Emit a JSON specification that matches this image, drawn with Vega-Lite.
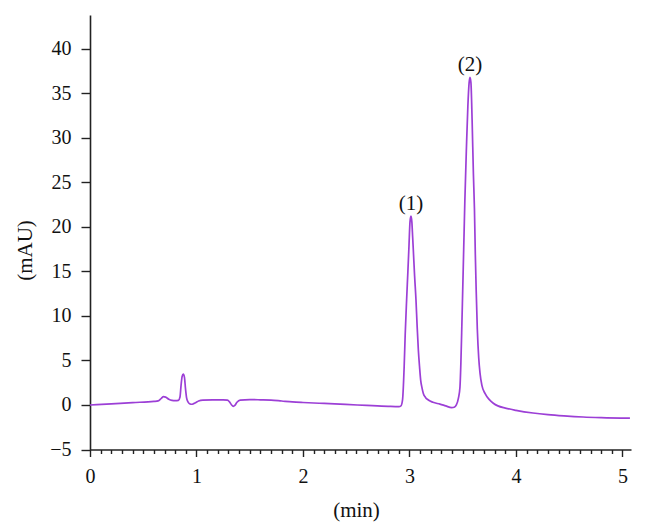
{
  "$schema": "https://vega.github.io/schema/vega-lite/v6.json",
  "width": 541,
  "height": 434.5,
  "autosize": "none",
  "padding": {"left": 90, "top": 15, "right": 14, "bottom": 82.5},
  "background": "white",
  "config": {
    "view": {"stroke": null},
    "font": "Liberation Serif",
    "axis": {"grid": false, "domainColor": "#222", "domainWidth": 1.6, "tickColor": "#222", "tickWidth": 1.4, "labelColor": "#111", "titleColor": "#111", "labelFont": "Liberation Serif", "titleFont": "Liberation Serif", "labelFontSize": 20, "titleFontSize": 21, "titleFontWeight": "normal"}
  },
  "datasets": {
    "trace": [
      {"t": 0.00, "v": 0.00}, {"t": 0.20, "v": 0.13}, {"t": 0.40, "v": 0.27}, {"t": 0.60, "v": 0.40},
      {"t": 0.64, "v": 0.46}, {"t": 0.67, "v": 0.75}, {"t": 0.69, "v": 0.93}, {"t": 0.71, "v": 0.88},
      {"t": 0.74, "v": 0.65}, {"t": 0.77, "v": 0.52}, {"t": 0.80, "v": 0.48}, {"t": 0.83, "v": 0.52},
      {"t": 0.845, "v": 0.9}, {"t": 0.855, "v": 2.2}, {"t": 0.865, "v": 3.2}, {"t": 0.876, "v": 3.48},
      {"t": 0.887, "v": 3.1}, {"t": 0.897, "v": 1.8}, {"t": 0.907, "v": 0.8}, {"t": 0.92, "v": 0.35},
      {"t": 0.935, "v": 0.15}, {"t": 0.96, "v": 0.08}, {"t": 0.99, "v": 0.25}, {"t": 1.02, "v": 0.45},
      {"t": 1.06, "v": 0.55}, {"t": 1.15, "v": 0.58}, {"t": 1.25, "v": 0.58}, {"t": 1.29, "v": 0.55},
      {"t": 1.31, "v": 0.35}, {"t": 1.33, "v": 0.0}, {"t": 1.345, "v": -0.15}, {"t": 1.36, "v": -0.05},
      {"t": 1.38, "v": 0.3}, {"t": 1.41, "v": 0.55}, {"t": 1.50, "v": 0.6}, {"t": 1.60, "v": 0.58},
      {"t": 1.70, "v": 0.55}, {"t": 1.80, "v": 0.45}, {"t": 1.90, "v": 0.35}, {"t": 2.00, "v": 0.28},
      {"t": 2.20, "v": 0.17}, {"t": 2.40, "v": 0.06}, {"t": 2.60, "v": -0.05}, {"t": 2.80, "v": -0.15},
      {"t": 2.90, "v": -0.18}, {"t": 2.92, "v": -0.1}, {"t": 2.935, "v": 0.6}, {"t": 2.95, "v": 4.3},
      {"t": 2.96, "v": 8.0}, {"t": 2.973, "v": 11.8}, {"t": 2.985, "v": 15.0}, {"t": 2.995, "v": 17.8},
      {"t": 3.005, "v": 20.6}, {"t": 3.014, "v": 21.2}, {"t": 3.022, "v": 20.6}, {"t": 3.03, "v": 18.8},
      {"t": 3.036, "v": 17.4}, {"t": 3.048, "v": 14.5}, {"t": 3.061, "v": 11.8}, {"t": 3.072, "v": 8.8},
      {"t": 3.083, "v": 6.2}, {"t": 3.095, "v": 4.2}, {"t": 3.105, "v": 2.8}, {"t": 3.118, "v": 1.9},
      {"t": 3.13, "v": 1.3}, {"t": 3.15, "v": 0.85}, {"t": 3.177, "v": 0.56}, {"t": 3.22, "v": 0.3},
      {"t": 3.286, "v": 0.1}, {"t": 3.34, "v": -0.1}, {"t": 3.396, "v": -0.3}, {"t": 3.42, "v": -0.25},
      {"t": 3.44, "v": 0.0}, {"t": 3.46, "v": 0.8}, {"t": 3.474, "v": 2.0}, {"t": 3.482, "v": 4.5},
      {"t": 3.49, "v": 8.1}, {"t": 3.498, "v": 12.0}, {"t": 3.505, "v": 15.5}, {"t": 3.513, "v": 19.5},
      {"t": 3.52, "v": 23.0}, {"t": 3.535, "v": 29.0}, {"t": 3.548, "v": 33.5}, {"t": 3.56, "v": 36.2},
      {"t": 3.568, "v": 36.8}, {"t": 3.577, "v": 36.2}, {"t": 3.588, "v": 32.0}, {"t": 3.60, "v": 26.0},
      {"t": 3.61, "v": 22.0}, {"t": 3.618, "v": 17.0}, {"t": 3.626, "v": 13.0}, {"t": 3.637, "v": 8.5},
      {"t": 3.65, "v": 5.3}, {"t": 3.662, "v": 3.6}, {"t": 3.68, "v": 2.2}, {"t": 3.709, "v": 1.3},
      {"t": 3.75, "v": 0.6}, {"t": 3.787, "v": 0.2}, {"t": 3.83, "v": -0.1}, {"t": 3.90, "v": -0.35},
      {"t": 4.00, "v": -0.6}, {"t": 4.16, "v": -0.9}, {"t": 4.30, "v": -1.08}, {"t": 4.45, "v": -1.22},
      {"t": 4.63, "v": -1.35}, {"t": 4.80, "v": -1.42}, {"t": 5.07, "v": -1.48}
    ],
    "peaks": [
      {"t": 3.014, "v": 21.2, "label": "(1)"},
      {"t": 3.568, "v": 36.8, "label": "(2)"}
    ]
  },
  "layer": [
    {
      "data": {"name": "trace"},
      "mark": {"type": "line", "color": "#9c3fd6", "strokeWidth": 1.7, "interpolate": "monotone"},
      "encoding": {
        "x": {"field": "t", "type": "quantitative", "scale": {"domain": [0, 5.08], "nice": false, "zero": false},
          "axis": {"orient": "bottom", "values": [0, 1, 2, 3, 4, 5], "tickSize": 7, "labelPadding": 10, "title": "(min)", "titlePadding": 13, "titleX": 266, "labelFlush": false}},
        "y": {"field": "v", "type": "quantitative", "scale": {"domain": [-5, 43.8], "nice": false, "zero": false},
          "axis": {"values": [-5, 0, 5, 10, 15, 20, 25, 30, 35, 40], "tickSize": 9, "labelPadding": 10, "title": "(mAU)", "titlePadding": 14, "titleY": 235}}
      }
    },
    {
      "data": {"name": "peaks"},
      "mark": {"type": "text", "font": "Liberation Serif", "fontSize": 21, "color": "#111", "baseline": "alphabetic", "dy": -6},
      "encoding": {
        "x": {"field": "t", "type": "quantitative",
          "axis": {"orient": "bottom", "values": [0.1,0.2,0.3,0.4,0.5,0.6,0.7,0.8,0.9,1.1,1.2,1.3,1.4,1.5,1.6,1.7,1.8,1.9,2.1,2.2,2.3,2.4,2.5,2.6,2.7,2.8,2.9,3.1,3.2,3.3,3.4,3.5,3.6,3.7,3.8,3.9,4.1,4.2,4.3,4.4,4.5,4.6,4.7,4.8,4.9,5.1], "tickSize": 4, "labels": false, "domain": false, "title": null}},
        "y": {"field": "v", "type": "quantitative"},
        "text": {"field": "label"}
      }
    }
  ],
  "resolve": {"axis": {"x": "independent"}}
}
